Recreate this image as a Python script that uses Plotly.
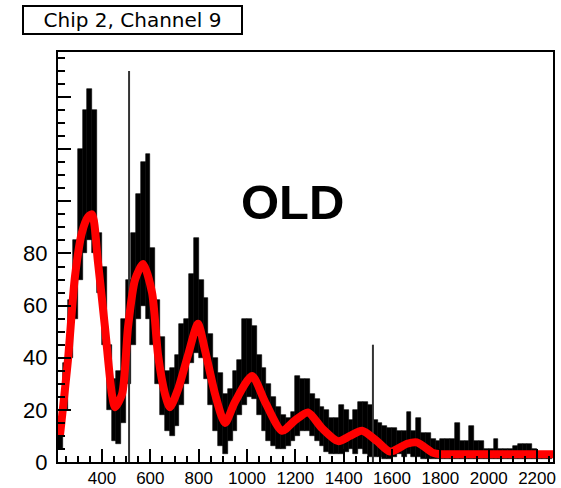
import plotly.graph_objects as go

# ---- data ----
bin_centers = list(range(230, 2251, 20))  # histogram bins, width 20
bin_width = 20

hist_upper = [15, 38, 62, 85, 120, 135, 143, 135, 88, 75,
              45, 32, 35, 55, 70, 88, 103, 115, 118, 82,
              62, 48, 35, 36, 41, 53, 55, 72, 86, 70,
              63, 49, 40, 34, 26, 28, 35, 39, 55, 55,
              52, 41, 36, 30, 25, 21, 18, 17, 19, 33,
              32, 32, 26, 24, 21, 20, 17, 17, 22, 20,
              16, 20, 23, 23, 22, 16, 15, 14, 13, 13,
              12, 12, 19, 12, 17, 11, 11, 9, 8, 9,
              9, 9, 15, 8, 8, 14, 8, 8, 5, 5,
              9, 5, 5, 5, 6, 7, 7, 7, 5, 4,
              4, 4]

hist_lower = [5, 20, 40, 55, 70, 80, 85, 80, 65, 45,
              20, 8, 7, 15, 30, 45, 55, 60, 55, 45,
              30, 18, 12, 10, 14, 22, 30, 38, 42, 40,
              32, 22, 12, 6, 3, 8, 12, 18, 22, 25,
              24, 18, 12, 8, 6, 5, 5, 6, 8, 10,
              12, 12, 10, 8, 6, 4, 3, 3, 3, 4,
              5, 3, 5, 3, 2, 2, 2, 1, 1, 2,
              3, 2, 3, 2, 2, 1, 1, 1, 1, 1,
              1, 1, 1, 1, 1, 1, 1, 1, 1, 1,
              1, 1, 1, 1, 1, 1, 1, 1, 1, 1,
              1, 1]

spike_x = [512, 1521]
spike_y = [150, 45]

fit_x = [226, 259, 288, 317, 342, 359, 383, 412, 441, 454, 483, 508, 537, 570,
         607, 632, 661, 681, 715, 756, 797, 826, 868, 909, 950, 1021, 1075,
         1145, 1199, 1252, 1310, 1377, 1426, 1476, 1538, 1592, 1662, 1703,
         1770, 1800, 1900, 2000, 2100, 2200, 2266]
fit_y = [10, 39, 71, 88, 94, 95, 77, 52, 26, 21, 26, 52, 70, 76,
         65, 41, 26, 21, 28, 41, 53, 43, 26, 15, 23, 33, 23,
         12, 16, 19, 13, 8, 10, 12, 8, 4, 7, 7.5,
         3.5, 3, 3, 3, 3, 3, 3]

x_range = [218, 2266]
y_range = [0, 157.3]
y_tick_vals = [0, 20, 40, 60, 80, 100, 120, 140]
y_tick_text = ["0", "20", "40", "60", "80", "", "", ""]
title_text = "Chip 2, Channel 9"
label_text = "OLD"

# ---- figure ----
W, H = 561, 488
L, R, T, B = 58, 8, 52, 26
pw, ph = W - L - R, H - T - B

fig = go.Figure()

heights = [u - l for u, l in zip(hist_upper, hist_lower)]
fig.add_trace(go.Bar(x=bin_centers, y=heights, base=hist_lower, width=bin_width,
                     marker=dict(color="black", line=dict(color="black", width=0.6)),
                     hoverinfo="skip"))

sx, sy = [], []
for xv, yv in zip(spike_x, spike_y):
    sx += [xv, xv, None]
    sy += [0, yv, None]
fig.add_trace(go.Scatter(x=sx, y=sy, mode="lines",
                         line=dict(color="#333333", width=2), hoverinfo="skip"))

fig.add_trace(go.Scatter(x=fit_x, y=fit_y, mode="lines",
                         line=dict(color="#ff0000", width=8, shape="spline", smoothing=0.7),
                         hoverinfo="skip"))

axis_common = dict(showgrid=False, zeroline=False, showline=True, linecolor="black",
                   linewidth=2, mirror=True, ticks="inside", tickcolor="black",
                   tickwidth=1.5, ticklen=13)

fig.update_xaxes(range=x_range, dtick=200, tick0=0,
                 tickfont=dict(family="Liberation Sans", size=17, color="black"),
                 ticklabelstandoff=0,
                 minor=dict(ticks="inside", ticklen=6, dtick=50, tick0=0,
                            tickcolor="black", tickwidth=1.5),
                 **axis_common)
fig.update_yaxes(range=y_range, tickmode="array", tickvals=y_tick_vals, ticktext=y_tick_text,
                 tickfont=dict(family="Liberation Sans", size=22, color="black"),
                 ticklabelstandoff=4,
                 minor=dict(ticks="inside", ticklen=7, dtick=5, tick0=0,
                            tickcolor="black", tickwidth=1.5),
                 **axis_common)

fig.add_annotation(xref="paper", yref="paper",
                   x=(22 - L) / pw, y=(H - B - 5) / ph,
                   xanchor="left", yanchor="top",
                   text=title_text, showarrow=False,
                   font=dict(family="DejaVu Sans", size=20, color="black"),
                   width=213, height=22, borderpad=2, borderwidth=2,
                   bordercolor="black", bgcolor="white")

fig.add_annotation(xref="paper", yref="paper",
                   x=(292 - L) / pw, y=(H - B - 202) / ph,
                   xanchor="center", yanchor="middle",
                   text=label_text, showarrow=False,
                   font=dict(family="Liberation Sans", size=49, color="black", weight="bold"))

fig.update_layout(width=W, height=H, margin=dict(l=L, r=R, t=T, b=B, autoexpand=False),
                  plot_bgcolor="white", paper_bgcolor="white", showlegend=False,
                  bargap=0)

fig.write_html("out.html", config={"displayModeBar": False},
               post_script="document.body.style.margin='0';document.body.style.padding='0';")
